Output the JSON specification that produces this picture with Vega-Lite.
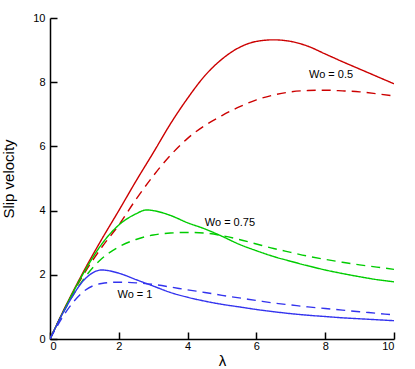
{
  "$schema": "https://vega.github.io/schema/vega-lite/v6.json",
  "width": 344,
  "height": 321,
  "autosize": "none",
  "padding": {"left": 50, "top": 18, "right": 21, "bottom": 30},
  "config": {"view": {"stroke": null}, "font": "Liberation Sans"},
  "datasets": {
    "curves": [
      {"wo": "0.5", "kind": "solid", "x": 0, "y": 0}, {"wo": "0.5", "kind": "solid", "x": 0.5, "y": 1.12}, {"wo": "0.5", "kind": "solid", "x": 1, "y": 2.15}, {"wo": "0.5", "kind": "solid", "x": 1.5, "y": 3.1}, {"wo": "0.5", "kind": "solid", "x": 2, "y": 4.0}, {"wo": "0.5", "kind": "solid", "x": 2.5, "y": 4.92}, {"wo": "0.5", "kind": "solid", "x": 3, "y": 5.8}, {"wo": "0.5", "kind": "solid", "x": 3.5, "y": 6.7}, {"wo": "0.5", "kind": "solid", "x": 4, "y": 7.5}, {"wo": "0.5", "kind": "solid", "x": 4.5, "y": 8.2}, {"wo": "0.5", "kind": "solid", "x": 5, "y": 8.72}, {"wo": "0.5", "kind": "solid", "x": 5.5, "y": 9.08}, {"wo": "0.5", "kind": "solid", "x": 6, "y": 9.27}, {"wo": "0.5", "kind": "solid", "x": 6.5, "y": 9.32}, {"wo": "0.5", "kind": "solid", "x": 7, "y": 9.27}, {"wo": "0.5", "kind": "solid", "x": 7.5, "y": 9.12}, {"wo": "0.5", "kind": "solid", "x": 8, "y": 8.88}, {"wo": "0.5", "kind": "solid", "x": 8.5, "y": 8.64}, {"wo": "0.5", "kind": "solid", "x": 9, "y": 8.41}, {"wo": "0.5", "kind": "solid", "x": 9.5, "y": 8.18}, {"wo": "0.5", "kind": "solid", "x": 10, "y": 7.95},
      {"wo": "0.5", "kind": "dash", "x": 0, "y": 0}, {"wo": "0.5", "kind": "dash", "x": 0.5, "y": 1.1}, {"wo": "0.5", "kind": "dash", "x": 1, "y": 2.05}, {"wo": "0.5", "kind": "dash", "x": 1.5, "y": 2.85}, {"wo": "0.5", "kind": "dash", "x": 2, "y": 3.55}, {"wo": "0.5", "kind": "dash", "x": 2.5, "y": 4.35}, {"wo": "0.5", "kind": "dash", "x": 3, "y": 5.08}, {"wo": "0.5", "kind": "dash", "x": 3.5, "y": 5.72}, {"wo": "0.5", "kind": "dash", "x": 4, "y": 6.25}, {"wo": "0.5", "kind": "dash", "x": 4.5, "y": 6.65}, {"wo": "0.5", "kind": "dash", "x": 5, "y": 6.96}, {"wo": "0.5", "kind": "dash", "x": 5.5, "y": 7.23}, {"wo": "0.5", "kind": "dash", "x": 6, "y": 7.45}, {"wo": "0.5", "kind": "dash", "x": 6.5, "y": 7.6}, {"wo": "0.5", "kind": "dash", "x": 7, "y": 7.7}, {"wo": "0.5", "kind": "dash", "x": 7.5, "y": 7.74}, {"wo": "0.5", "kind": "dash", "x": 8, "y": 7.75}, {"wo": "0.5", "kind": "dash", "x": 8.5, "y": 7.73}, {"wo": "0.5", "kind": "dash", "x": 9, "y": 7.7}, {"wo": "0.5", "kind": "dash", "x": 9.5, "y": 7.64}, {"wo": "0.5", "kind": "dash", "x": 10, "y": 7.57},
      {"wo": "0.75", "kind": "solid", "x": 0, "y": 0}, {"wo": "0.75", "kind": "solid", "x": 0.5, "y": 1.1}, {"wo": "0.75", "kind": "solid", "x": 1, "y": 2.1}, {"wo": "0.75", "kind": "solid", "x": 1.5, "y": 2.95}, {"wo": "0.75", "kind": "solid", "x": 2, "y": 3.55}, {"wo": "0.75", "kind": "solid", "x": 2.5, "y": 3.9}, {"wo": "0.75", "kind": "solid", "x": 2.8, "y": 4.02}, {"wo": "0.75", "kind": "solid", "x": 3, "y": 4.0}, {"wo": "0.75", "kind": "solid", "x": 3.5, "y": 3.85}, {"wo": "0.75", "kind": "solid", "x": 4, "y": 3.62}, {"wo": "0.75", "kind": "solid", "x": 4.5, "y": 3.43}, {"wo": "0.75", "kind": "solid", "x": 5, "y": 3.2}, {"wo": "0.75", "kind": "solid", "x": 5.5, "y": 2.95}, {"wo": "0.75", "kind": "solid", "x": 6, "y": 2.75}, {"wo": "0.75", "kind": "solid", "x": 6.5, "y": 2.57}, {"wo": "0.75", "kind": "solid", "x": 7, "y": 2.42}, {"wo": "0.75", "kind": "solid", "x": 7.5, "y": 2.28}, {"wo": "0.75", "kind": "solid", "x": 8, "y": 2.15}, {"wo": "0.75", "kind": "solid", "x": 8.5, "y": 2.04}, {"wo": "0.75", "kind": "solid", "x": 9, "y": 1.94}, {"wo": "0.75", "kind": "solid", "x": 9.5, "y": 1.85}, {"wo": "0.75", "kind": "solid", "x": 10, "y": 1.78},
      {"wo": "0.75", "kind": "dash", "x": 0, "y": 0}, {"wo": "0.75", "kind": "dash", "x": 0.5, "y": 1.05}, {"wo": "0.75", "kind": "dash", "x": 1, "y": 1.9}, {"wo": "0.75", "kind": "dash", "x": 1.5, "y": 2.5}, {"wo": "0.75", "kind": "dash", "x": 2, "y": 2.87}, {"wo": "0.75", "kind": "dash", "x": 2.5, "y": 3.1}, {"wo": "0.75", "kind": "dash", "x": 3, "y": 3.24}, {"wo": "0.75", "kind": "dash", "x": 3.5, "y": 3.3}, {"wo": "0.75", "kind": "dash", "x": 4, "y": 3.32}, {"wo": "0.75", "kind": "dash", "x": 4.5, "y": 3.3}, {"wo": "0.75", "kind": "dash", "x": 5, "y": 3.22}, {"wo": "0.75", "kind": "dash", "x": 5.5, "y": 3.1}, {"wo": "0.75", "kind": "dash", "x": 6, "y": 2.96}, {"wo": "0.75", "kind": "dash", "x": 6.5, "y": 2.82}, {"wo": "0.75", "kind": "dash", "x": 7, "y": 2.7}, {"wo": "0.75", "kind": "dash", "x": 7.5, "y": 2.58}, {"wo": "0.75", "kind": "dash", "x": 8, "y": 2.48}, {"wo": "0.75", "kind": "dash", "x": 8.5, "y": 2.39}, {"wo": "0.75", "kind": "dash", "x": 9, "y": 2.31}, {"wo": "0.75", "kind": "dash", "x": 9.5, "y": 2.24}, {"wo": "0.75", "kind": "dash", "x": 10, "y": 2.17},
      {"wo": "1", "kind": "solid", "x": 0, "y": 0}, {"wo": "1", "kind": "solid", "x": 0.5, "y": 1.05}, {"wo": "1", "kind": "solid", "x": 1, "y": 1.85}, {"wo": "1", "kind": "solid", "x": 1.5, "y": 2.15}, {"wo": "1", "kind": "solid", "x": 2, "y": 2.05}, {"wo": "1", "kind": "solid", "x": 2.5, "y": 1.85}, {"wo": "1", "kind": "solid", "x": 3, "y": 1.65}, {"wo": "1", "kind": "solid", "x": 3.5, "y": 1.45}, {"wo": "1", "kind": "solid", "x": 4, "y": 1.3}, {"wo": "1", "kind": "solid", "x": 4.5, "y": 1.18}, {"wo": "1", "kind": "solid", "x": 5, "y": 1.08}, {"wo": "1", "kind": "solid", "x": 5.5, "y": 1.0}, {"wo": "1", "kind": "solid", "x": 6, "y": 0.92}, {"wo": "1", "kind": "solid", "x": 6.5, "y": 0.85}, {"wo": "1", "kind": "solid", "x": 7, "y": 0.79}, {"wo": "1", "kind": "solid", "x": 7.5, "y": 0.74}, {"wo": "1", "kind": "solid", "x": 8, "y": 0.7}, {"wo": "1", "kind": "solid", "x": 8.5, "y": 0.66}, {"wo": "1", "kind": "solid", "x": 9, "y": 0.63}, {"wo": "1", "kind": "solid", "x": 9.5, "y": 0.6}, {"wo": "1", "kind": "solid", "x": 10, "y": 0.57},
      {"wo": "1", "kind": "dash", "x": 0, "y": 0}, {"wo": "1", "kind": "dash", "x": 0.5, "y": 0.9}, {"wo": "1", "kind": "dash", "x": 1, "y": 1.5}, {"wo": "1", "kind": "dash", "x": 1.5, "y": 1.73}, {"wo": "1", "kind": "dash", "x": 2, "y": 1.77}, {"wo": "1", "kind": "dash", "x": 2.5, "y": 1.75}, {"wo": "1", "kind": "dash", "x": 3, "y": 1.7}, {"wo": "1", "kind": "dash", "x": 3.5, "y": 1.62}, {"wo": "1", "kind": "dash", "x": 4, "y": 1.53}, {"wo": "1", "kind": "dash", "x": 4.5, "y": 1.45}, {"wo": "1", "kind": "dash", "x": 5, "y": 1.36}, {"wo": "1", "kind": "dash", "x": 5.5, "y": 1.28}, {"wo": "1", "kind": "dash", "x": 6, "y": 1.2}, {"wo": "1", "kind": "dash", "x": 6.5, "y": 1.12}, {"wo": "1", "kind": "dash", "x": 7, "y": 1.06}, {"wo": "1", "kind": "dash", "x": 7.5, "y": 1.0}, {"wo": "1", "kind": "dash", "x": 8, "y": 0.95}, {"wo": "1", "kind": "dash", "x": 8.5, "y": 0.9}, {"wo": "1", "kind": "dash", "x": 9, "y": 0.85}, {"wo": "1", "kind": "dash", "x": 9.5, "y": 0.8}, {"wo": "1", "kind": "dash", "x": 10, "y": 0.75}
    ],
    "labels": [
      {"x": 8.17, "y": 8.22, "text": "Wo = 0.5"},
      {"x": 5.23, "y": 3.62, "text": "Wo = 0.75"},
      {"x": 2.47, "y": 1.37, "text": "Wo = 1"}
    ]
  },
  "layer": [
    {
      "data": {"name": "curves"},
      "mark": {"type": "line", "strokeWidth": 1.4, "interpolate": "monotone", "clip": true},
      "encoding": {
        "x": {"field": "x", "type": "quantitative", "scale": {"domain": [0, 10], "nice": false},
          "axis": {"orient": "bottom", "title": "λ", "titleFontSize": 15, "titleFontWeight": "normal", "titleColor": "black", "titlePadding": 2,
            "values": [0, 0.5, 1, 1.5, 2, 2.5, 3, 3.5, 4, 4.5, 5, 5.5, 6, 6.5, 7, 7.5, 8, 8.5, 9, 9.5, 10],
            "tickSize": {"condition": {"test": "datum.value % 2 === 0", "value": -7}, "value": -4},
            "tickWidth": {"condition": {"test": "datum.value % 2 === 0", "value": 1.5}, "value": 1},
            "labelExpr": "datum.value % 2 === 0 ? datum.label : ''",
            "tickColor": "black", "domainColor": "black", "domainWidth": 1.5,
            "labelFontSize": 11, "labelColor": "black", "labelPadding": 8, "grid": false}},
        "y": {"field": "y", "type": "quantitative", "scale": {"domain": [0, 10], "nice": false},
          "axis": {"orient": "left", "title": "Slip velocity", "titleFontSize": 15, "titleFontWeight": "normal", "titleColor": "black", "titlePadding": 16,
            "values": [0, 0.5, 1, 1.5, 2, 2.5, 3, 3.5, 4, 4.5, 5, 5.5, 6, 6.5, 7, 7.5, 8, 8.5, 9, 9.5, 10],
            "tickSize": {"condition": {"test": "datum.value % 2 === 0", "value": -7}, "value": -4},
            "tickWidth": {"condition": {"test": "datum.value % 2 === 0", "value": 1.5}, "value": 1},
            "labelExpr": "datum.value % 2 === 0 ? datum.label : ''",
            "tickColor": "black", "domainColor": "black", "domainWidth": 1.5,
            "labelFontSize": 11, "labelColor": "black", "labelPadding": 12, "grid": false}},
        "color": {"field": "wo", "type": "nominal", "scale": {"domain": ["0.5", "0.75", "1"], "range": ["#cc0000", "#00cc00", "#3333ee"]}, "legend": null},
        "strokeDash": {"field": "kind", "type": "nominal", "scale": {"domain": ["solid", "dash"], "range": [[1, 0], [9, 6]]}, "legend": null},
        "detail": {"field": "kind"}
      }
    },
    {
      "data": {"name": "labels"},
      "mark": {"type": "text", "fontSize": 11, "color": "black"},
      "encoding": {
        "x": {"field": "x", "type": "quantitative"},
        "y": {"field": "y", "type": "quantitative"},
        "text": {"field": "text"}
      }
    }
  ]
}
